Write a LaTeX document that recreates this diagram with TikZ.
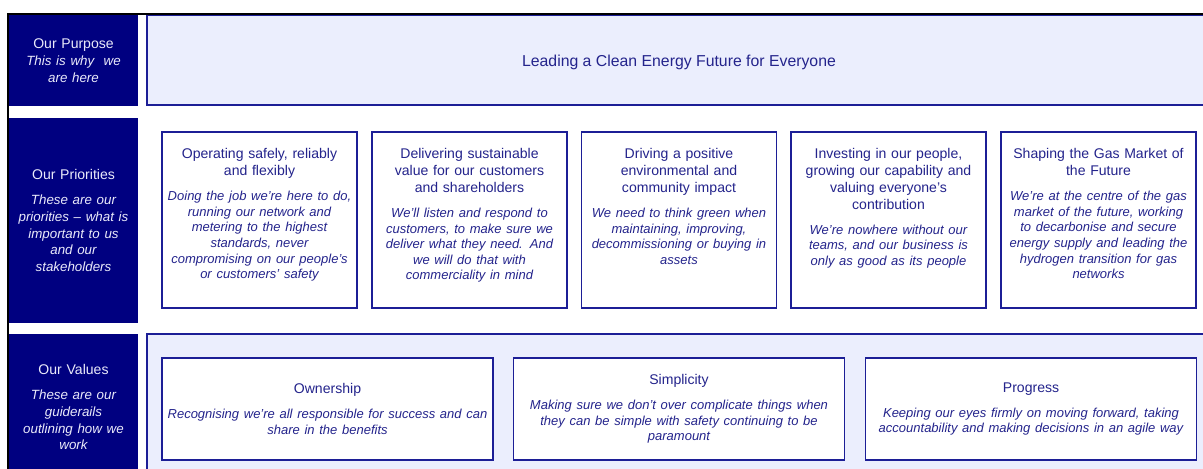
\documentclass[tikz,border=0pt]{standalone}
\usepackage{fontspec}
\setmainfont{Liberation Sans}
\usetikzlibrary{positioning}

\definecolor{navy}{RGB}{0,0,128}
\definecolor{edgeblue}{RGB}{28,30,150}
\definecolor{paleblue}{RGB}{235,238,253}
\definecolor{inkblue}{RGB}{36,36,140}
\definecolor{sidetext}{RGB}{234,234,250}

% italic line(s) under a heading
\newcommand\blurb[1]{\par\vspace{5.3pt}{\fontsize{7.4}{8.9}\selectfont\itshape #1\par}}
\newcommand\sideblurb[2]{\par\vspace{#1}{\fontsize{7.6}{9.5}\selectfont\itshape #2\par}}

\begin{document}
\begin{tikzpicture}[x=0.02cm, y=-0.02cm]
\tikzstyle{every node}=[font=\fontsize{8}{9.6}\selectfont, inner sep=0pt]
\tikzstyle{side}=[fill=navy, text=sidetext, text width=2.4cm, align=center, minimum width=2.58cm]
\tikzstyle{band}=[draw=edgeblue, line width=0.8pt, fill=paleblue, minimum width=21.36cm]
\tikzstyle{card}=[draw=edgeblue, line width=1pt, fill=white]
\tikzstyle{cardtext}=[text=inkblue, text width=3.8cm, align=center]
\tikzstyle{valuecard}=[card, text=inkblue, text width=6.55cm, align=center,%
  minimum width=6.62cm, minimum height=2.04cm]

\useasboundingbox (0,0) rectangle (1203,468);
\clip (0,0) rectangle (1203,468);

% left column
  \node[side, minimum height=1.82cm] (purpose) at (73.5,60.5)%
{%
  Our Purpose\sideblurb{0pt}{This is why\ \ we\\ are here}
};
  \node[side, minimum height=4.1cm] (priorities) at (73.5,220.5)%
{%
  Our Priorities\sideblurb{5pt}{These are our\\ priorities -- what is\\ important to us\\ and our\\ stakeholders}
};
  \node[side, minimum height=2.92cm] (values) at (73.5,407)%
{%
  Our Values\sideblurb{5pt}{These are our\\ guiderails\\ outlining how we\\ work}
};

% purpose band
  \node[band, minimum height=1.8cm] (purposebg) at (681,60) {};
  \node[text=inkblue, font=\fontsize{9}{11}\selectfont] (purposetext) at (679,62)%
{Leading a Clean Energy Future for Everyone};

% priorities
  \node[card, minimum width=3.9cm, minimum height=3.52cm] (p1) at (259.5,220) {};
  \node[card, minimum width=3.9cm, minimum height=3.52cm] (p2) at (469.5,220) {};
  \node[card, minimum width=3.9cm, minimum height=3.52cm] (p3) at (679,220) {};
  \node[card, minimum width=3.9cm, minimum height=3.52cm] (p4) at (888.5,220) {};
  \node[card, minimum width=3.9cm, minimum height=3.52cm] (p5) at (1098.5,220) {};

  \node[cardtext, below=0.34cm of p1.north] (p1text)%
{%
  Operating\ safely,\ reliably\\ and flexibly%
  \blurb{Doing the job we're\ here to do,\\ running our network and\\ metering to the highest\\
    standards, never\\ compromising on our people's\\ or customers' safety}
};
  \node[cardtext, below=0.34cm of p2.north] (p2text)%
{%
  Delivering sustainable\\ value for our customers\\ and shareholders%
  \blurb{We'll listen and respond to\\ customers, to make sure we\\ deliver what they need. And\\
    we will do that with\\ commerciality in mind}
};
  \node[cardtext, below=0.34cm of p3.north] (p3text)%
{%
  Driving a positive\\ environmental and\\ community impact%
  \blurb{We need to think green when\\ maintaining, improving,\\ decommissioning or buying in\\ assets}
};
  \node[cardtext, below=0.34cm of p4.north] (p4text)%
{%
  Investing in our people,\\ growing our capability and\\ valuing everyone's\\ contribution%
  \blurb{We're nowhere without our\\ teams, and our business is\\ only as good as its people}
};
  \node[cardtext, below=0.34cm of p5.north] (p5text)%
{%
  Shaping the Gas Market of\\ the Future%
  \blurb{We're at the centre of the gas\\ market of the future, working\\ to decarbonise and secure\\
    energy supply and leading the\\ hydrogen transition for gas\\ networks}
};

% values band
  \node[band, minimum height=3.12cm] (valuesbg) at (681,412) {};
  \node[valuecard] (ownership) at (327.5,409)%
{%
  Ownership\blurb{Recognising we're all responsible for success and can\\ share in the benefits}
};
  \node[valuecard] (simplicity) at (679,409)%
{%
  Simplicity\blurb{Making sure we don't over complicate things when\\ they can be simple with safety continuing to be\\ paramount}
};
  \node[valuecard] (progress) at (1031,409)%
{%
  Progress\blurb{Keeping our eyes firmly on moving forward, taking\\ accountability and making decisions in an agile way}
};

% frame
\draw[line width=0.04cm] (8,480) -- (8,14) -- (1220,14);
\end{tikzpicture}
\end{document}
